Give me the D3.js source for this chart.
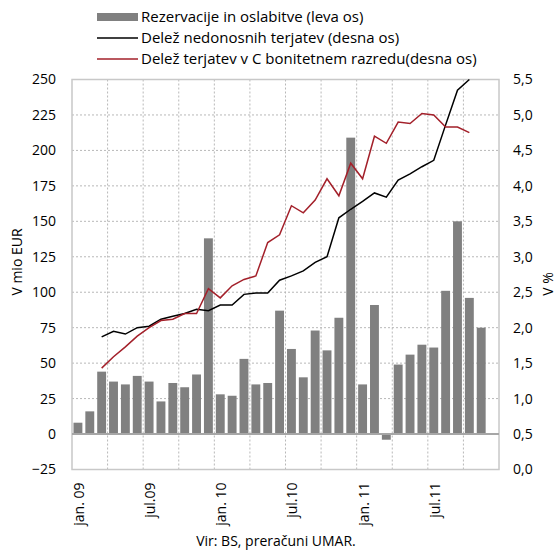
<!DOCTYPE html>
<html>
<head>
<meta charset="utf-8">
<script src="https://cdn.jsdelivr.net/npm/d3@7"></script>
<style>
  body { margin: 0; background: #fff; }
  svg { display: block; }
  text { font-family: "Open Sans", "Noto Sans", sans-serif; fill: #000; }
</style>
</head>
<body>
<svg id="chart" width="559" height="551"></svg>
<script>
// ---------- DATA ----------
const months = [
  "jan.09","feb.09","mar.09","apr.09","maj.09","jun.09","jul.09","avg.09","sep.09","okt.09","nov.09","dec.09",
  "jan.10","feb.10","mar.10","apr.10","maj.10","jun.10","jul.10","avg.10","sep.10","okt.10","nov.10","dec.10",
  "jan.11","feb.11","mar.11","apr.11","maj.11","jun.11","jul.11","avg.11","sep.11","okt.11","nov.11","dec.11"
];
const tickMonths = ["jan.09","jul.09","jan.10","jul.10","jan.11","jul.11"];
const tickLabels = ["jan. 09","jul.09","jan. 10","jul.10","jan. 11","jul.11"];

// Rezervacije in oslabitve (leva os), mio EUR, jan.09 .. nov.11
const provisions = [8,16,44,37,35,41,37,23,36,33,42,138,
                    28,27,53,35,36,87,60,40,73,59,82,209,
                    35,91,-4,49,56,63,61,101,150,96,75];
// Delež nedonosnih terjatev (desna os), %, mar.09 .. okt.11
const nplMonths = months.slice(2, 34);
const nplShare = [1.87,1.95,1.91,2.00,2.02,2.12,2.16,2.20,2.26,2.24,
                  2.32,2.32,2.47,2.49,2.49,2.67,2.73,2.80,2.92,3.00,
                  3.55,3.67,3.78,3.90,3.84,4.08,4.17,4.27,4.36,4.86,
                  5.35,5.50];
// Delež terjatev v C bonitetnem razredu (desna os), %, mar.09 .. okt.11
const cShare = [1.43,1.59,1.73,1.88,2.00,2.10,2.12,2.20,2.20,2.55,
                2.42,2.59,2.68,2.73,3.20,3.31,3.72,3.62,3.80,4.10,
                3.86,4.32,4.10,4.70,4.60,4.90,4.88,5.02,5.00,4.83,
                4.83,4.75];

const leftTicks = [-25,0,25,50,75,100,125,150,175,200,225,250];
const rightTicks = [0,0.5,1,1.5,2,2.5,3,3.5,4,4.5,5,5.5];
const legendLabels = [
  "Rezervacije in oslabitve (leva os)",
  "Delež nedonosnih terjatev (desna os)",
  "Delež terjatev v C bonitetnem razredu(desna os)"
];

// ---------- LAYOUT ----------
const svg = d3.select("#chart");
const L = 72, R = 499, T = 79.5, B = 469.5;
const barColor = "#808080", redColor = "#a3202a", gridColor = "#b8b8b8";
const FONT = '"Open Sans", sans-serif';

const x = d3.scaleBand().domain(months).range([L, R]).paddingInner(0.25).paddingOuter(0.125);
const yL = d3.scaleLinear().domain([-25, 250]).range([B, T]);
const yR = d3.scaleLinear().domain([0, 5.5]).range([B, T]);
const cx = m => x(m) + x.bandwidth() / 2;
const step = x.step();

// grid: horizontal
svg.append("g").selectAll("line").data(leftTicks.filter(v => v > 0 && v < 250)).join("line")
  .attr("x1", L).attr("x2", R).attr("y1", d => yL(d)).attr("y2", d => yL(d))
  .attr("stroke", gridColor).attr("stroke-width", 1).attr("stroke-dasharray", "2,2");
// grid: vertical every 3 months
const vIdx = d3.range(3, 36, 3);
svg.append("g").selectAll("line").data(vIdx).join("line")
  .attr("x1", d => L + d * step).attr("x2", d => L + d * step)
  .attr("y1", T).attr("y2", B)
  .attr("stroke", gridColor).attr("stroke-width", 1).attr("stroke-dasharray", "2,2");

// plot border
svg.append("rect").attr("x", L).attr("y", T).attr("width", R - L).attr("height", B - T)
  .attr("fill", "none").attr("stroke", "#c8c8c8").attr("stroke-width", 1.5);

// bars
svg.append("g").selectAll("rect").data(provisions).join("rect")
  .attr("x", (d, i) => x(months[i]))
  .attr("width", x.bandwidth())
  .attr("y", d => yL(Math.max(0, d)))
  .attr("height", d => Math.abs(yL(d) - yL(0)))
  .attr("fill", barColor);

// zero line
svg.append("line").attr("x1", L).attr("x2", R).attr("y1", yL(0)).attr("y2", yL(0))
  .attr("stroke", "#a6a6a6").attr("stroke-width", 2);

// lines
const line = d3.line().x(d => cx(d[0])).y(d => yR(d[1]));
svg.append("path").datum(nplMonths.map((m, i) => [m, nplShare[i]]))
  .attr("d", line).attr("fill", "none").attr("stroke", "#000").attr("stroke-width", 1.5);
svg.append("path").datum(nplMonths.map((m, i) => [m, cShare[i]]))
  .attr("d", line).attr("fill", "none").attr("stroke", redColor).attr("stroke-width", 1.5);

// left axis
const axL = svg.append("g").attr("transform", `translate(${L - 16},0)`)
  .call(d3.axisLeft(yL).tickValues(leftTicks).tickSize(0).tickPadding(0).tickFormat(d3.format("d")));
axL.select(".domain").remove();
axL.selectAll("text").attr("font-size", 14).attr("font-family", FONT).attr("fill", "#000");

// right axis
const axR = svg.append("g").attr("transform", `translate(${R + 14},0)`)
  .call(d3.axisRight(yR).tickValues(rightTicks).tickSize(0).tickPadding(0)
    .tickFormat(d => d3.format(".1f")(d).replace(".", ",")));
axR.select(".domain").remove();
axR.selectAll("text").attr("font-size", 14).attr("font-family", FONT).attr("fill", "#000");

// x axis
const axX = svg.append("g").attr("transform", `translate(0,${B})`)
  .call(d3.axisBottom(x).tickValues(tickMonths).tickSize(0).tickPadding(0)
    .tickFormat(d => tickLabels[tickMonths.indexOf(d)]));
axX.select(".domain").remove();
axX.selectAll("text")
  .attr("font-size", 14).attr("font-family", FONT).attr("fill", "#000")
  .attr("text-anchor", "end")
  .attr("transform", "rotate(-90)")
  .attr("x", -13).attr("y", 1).attr("dy", "0.35em");

// axis titles
svg.append("text").attr("transform", "translate(22,262) rotate(-90)")
  .attr("text-anchor", "middle").attr("font-size", 14).text("V mio EUR");
svg.append("text").attr("transform", "translate(553,284) rotate(-90)")
  .attr("text-anchor", "middle").attr("font-size", 14).text("V %");

// source
svg.append("text").attr("x", 276).attr("y", 546).attr("text-anchor", "middle")
  .attr("font-size", 14).text("Vir: BS, preračuni UMAR.");

// legend
const lg = svg.append("g");
const rowsY = [17, 38, 59];
lg.append("rect").attr("x", 97).attr("y", 13).attr("width", 41).attr("height", 8).attr("fill", barColor);
lg.append("line").attr("x1", 97).attr("x2", 138).attr("y1", rowsY[1]).attr("y2", rowsY[1])
  .attr("stroke", "#000").attr("stroke-width", 1.5);
lg.append("line").attr("x1", 97).attr("x2", 138).attr("y1", rowsY[2]).attr("y2", rowsY[2])
  .attr("stroke", redColor).attr("stroke-width", 1.5);
lg.selectAll("text").data(legendLabels).join("text")
  .attr("x", 141).attr("y", (d, i) => rowsY[i]).attr("dy", "0.35em")
  .attr("font-size", 15).text(d => d);
</script>
</body>
</html>
